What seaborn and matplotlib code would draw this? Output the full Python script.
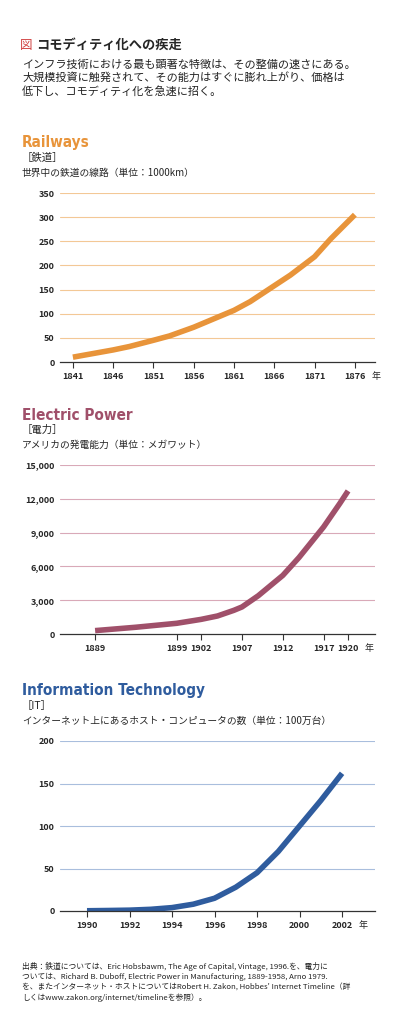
import matplotlib
matplotlib.use("Agg")
import matplotlib.pyplot as plt
import seaborn as sns
import pandas as pd

sns.set_theme(style="white")
plt.rcParams['font.family'] = ['Noto Sans CJK JP', 'DejaVu Sans']

rail_years = [1841, 1843, 1846, 1848, 1851, 1853, 1856, 1858, 1861, 1863, 1866, 1868, 1871, 1873, 1876]
rail_vals = [10, 16, 25, 32, 45, 54, 72, 86, 107, 125, 158, 180, 218, 255, 305]
elec_years = [1889, 1894, 1899, 1902, 1904, 1906, 1907, 1909, 1912, 1914, 1917, 1919, 1920]
elec_vals = [300, 600, 950, 1300, 1600, 2100, 2400, 3400, 5200, 6800, 9500, 11600, 12700]
it_years = [1990, 1991, 1992, 1993, 1994, 1995, 1996, 1997, 1998, 1999, 2000, 2001, 2002]
it_vals = [0.3, 0.6, 1.0, 2, 4, 8, 15, 28, 45, 70, 100, 130, 162]

rail_xticks = [1841, 1846, 1851, 1856, 1861, 1866, 1871, 1876]
elec_xticks = [1889, 1899, 1902, 1907, 1912, 1917, 1920]
it_xticks = [1990, 1992, 1994, 1996, 1998, 2000, 2002]

W, H = 400, 1028
fig = plt.figure(figsize=(4, 10.28), dpi=100)

def fy(p): return 1 - p / H

fig.text(20/W, fy(45), "図", color="#d04040", fontsize=9, va="center")
fig.text(36/W, fy(45), "コモディティ化への疾走", fontsize=9.5, weight="bold", va="center")
fig.text(22/W, fy(59), "インフラ技術における最も顕著な特徴は、その整備の速さにある。\n大規模投資に触発されて、その能力はすぐに膨れ上がり、価格は\n低下し、コモディティ化を急速に招く。",
         fontsize=8, va="top", linespacing=1.3, color="#222")

def panel(top, bottom, x0, x1, years, vals, color, gridc, ymax, ystep, xticks, title, sub1, sub2, fmt):
    ax = fig.add_axes([60/W, fy(bottom), 315/W, (bottom-top)/H])
    df = pd.DataFrame({"x": years, "y": vals})
    sns.lineplot(data=df, x="x", y="y", ax=ax, color=color, linewidth=4, solid_capstyle="butt")
    ax.set_xlim(x0, x1)
    ax.set_ylim(0, ymax)
    yt = list(range(0, ymax + 1, ystep))
    ax.set_yticks(yt)
    ax.set_yticklabels([fmt(v) for v in yt], fontsize=6.5, weight="bold")
    ax.set_xticks(xticks)
    ax.set_xticklabels([str(t) for t in xticks], fontsize=6.5, weight="bold")
    ax.tick_params(axis="x", length=4, width=0.8, color="#333", pad=3, bottom=True)
    ax.tick_params(axis="y", length=0, pad=4)
    for v in yt[1:]:
        ax.axhline(v, color=gridc, lw=0.8, zorder=0)
    for s in ["top", "right", "left"]:
        ax.spines[s].set_visible(False)
    ax.spines["bottom"].set_color("#333")
    ax.spines["bottom"].set_linewidth(0.9)
    ax.set_xlabel(""); ax.set_ylabel("")
    ax.annotate("年", xy=(xticks[-1], 0), xycoords="data", xytext=(12, -7), textcoords="offset points",
                fontsize=6.5, ha="left", va="top")
    fig.text(22/W, fy(top-50), title, color=color, fontsize=11, weight="bold", va="center", family=["DejaVu Sans"], stretch="condensed")
    fig.text(22/W, fy(top-35), sub1, fontsize=7.5, va="center")
    fig.text(22/W, fy(top-20), sub2, fontsize=7, va="center")
    return ax

panel(193, 362, 1839.4, 1878.5, rail_years, rail_vals, "#E8943A", "#F3C896", 350, 50, rail_xticks,
      "Railways", "［鉄道］", "世界中の鉄道の線路（単位：1000km）", lambda v: str(v))
panel(465, 634, 1884.7, 1923.3, elec_years, elec_vals, "#A0506A", "#D9A9B8", 15000, 3000, elec_xticks,
      "Electric Power", "［電力］", "アメリカの発電能力（単位：メガワット）", lambda v: f"{v:,}")
panel(741, 911, 1988.73, 2003.55, it_years, it_vals, "#2F5C9E", "#A9BEDD", 200, 50, it_xticks,
      "Information Technology", "［IT］", "インターネット上にあるホスト・コンピュータの数（単位：100万台）", lambda v: str(v))

fig.text(22/W, fy(962), "出典：鉄道については、Eric Hobsbawm, The Age of Capital, Vintage, 1996.を、電力に\nついては、Richard B. Duboff, Electric Power in Manufacturing, 1889-1958, Arno 1979.\nを、またインターネット・ホストについてはRobert H. Zakon, Hobbes' Internet Timeline（詳\nしくはwww.zakon.org/internet/timelineを参照）。",
         fontsize=5.6, va="top", linespacing=1.3, color="#222")

fig.savefig("out.png", dpi=100, facecolor="white")
